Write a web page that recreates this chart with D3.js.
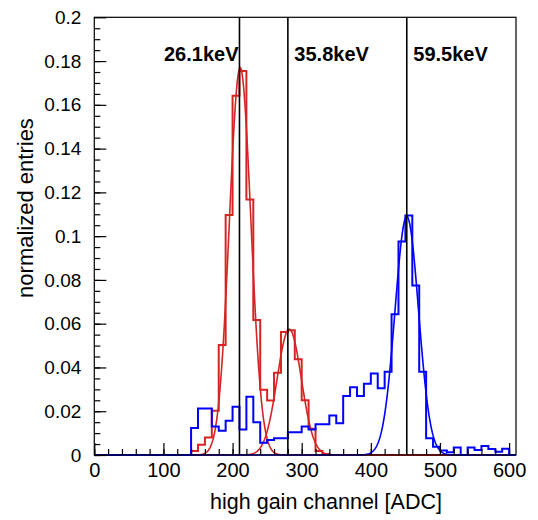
<!DOCTYPE html>
<html>
<head>
<meta charset="utf-8">
<script src="https://cdn.jsdelivr.net/npm/d3@7"></script>
<style>
  body { margin: 0; background: #fff; }
  text { font-family: "Liberation Sans", Arial, sans-serif; }
</style>
</head>
<body>
<div id="chart"></div>
<script>
// Histogram bins: 10 ADC channels wide, non-zero content from channel 140 up
var binWidth = 10;
var firstBin = 140;
var xMax = 610;

// normalized entries, bins 140..600
var redCounts = [
  0.0018, 0.0047, 0.0080, 0.0202, 0.0503, 0.1097, 0.1642, 0.1755, 0.1167, 0.0617,
  0.0298, 0.0249, 0.0376, 0.0562, 0.0570, 0.0437, 0.0250, 0.0120, 0.0018, 0.0005,
  0, 0, 0, 0, 0, 0, 0, 0, 0, 0,
  0, 0, 0, 0, 0, 0, 0, 0, 0, 0,
  0, 0, 0, 0, 0, 0, 0
];
var blueCounts = [
  0.0123, 0.0213, 0.0213, 0.0130, 0.0111, 0.0157, 0.0221, 0.0117, 0.0266, 0.0150,
  0.0056, 0.0069, 0.0076, 0.0076, 0.0104, 0.0104, 0.0130, 0.0117, 0.0140, 0.0140,
  0.0180, 0.0145, 0.0270, 0.0310, 0.0270, 0.0325, 0.0372, 0.0305, 0.0380, 0.0643,
  0.0975, 0.1094, 0.0774, 0.0380, 0.0076, 0.0038, 0.0020, 0.0013, 0.0034, 0.0000,
  0.0034, 0.0023, 0.0041, 0.0027, 0.0015, 0.0029, 0.0000
];

// gaussian fit parameters [amplitude, mean, sigma]
var redFits = [[0.177, 211, 15.5], [0.0575, 282, 17.5]];
var blueFit = [0.109, 452, 17];

// peak markers
var peakChannels = [210, 280, 452];
var peakLabels = ["26.1keV", "35.8keV", "59.5keV"];

var yTicks = [0, 0.02, 0.04, 0.06, 0.08, 0.1, 0.12, 0.14, 0.16, 0.18, 0.2];
var xTicks = [0, 100, 200, 300, 400, 500, 600];

var svgWidth = 538;
var svgHeight = 520;
var margin = { top: 17.3, right: 22, bottom: 65, left: 94.3 };

var svg = d3.select("#chart")
  .append("svg")
  .attr("width", svgWidth)
  .attr("height", svgHeight);

var x = d3.scaleLinear().domain([0, xMax]).range([margin.left, svgWidth - margin.right]);
var y = d3.scaleLinear().domain([0, 0.2]).range([svgHeight - margin.bottom, margin.top]);

// full bin list from 0 to xMax
function toBins(counts) {
  return d3.range(0, xMax, binWidth).map(function(lo) {
    var v = lo >= firstBin ? counts[(lo - firstBin) / binWidth] : 0;
    return { lo: lo, v: v || 0 };
  });
}

var histLine = d3.line()
  .x(d => x(d.lo))
  .y(d => y(d.v))
  .curve(d3.curveStepAfter);

function drawHist(counts, color) {
  var bins = toBins(counts);
  bins.push({ lo: xMax, v: bins[bins.length - 1].v });
  svg.append("path")
    .attr("d", histLine(bins))
    .attr("fill", "none")
    .attr("stroke", color)
    .attr("stroke-width", 2);
}

var fitLine = d3.line().x(d => x(d[0])).y(d => y(d[1]));

function drawFit(p, color) {
  var pts = d3.range(0, xMax + 0.5, 1).map(function(c) {
    return [c, p[0] * Math.exp(-0.5 * Math.pow((c - p[1]) / p[2], 2))];
  });
  svg.append("path")
    .attr("d", fitLine(pts))
    .attr("fill", "none")
    .attr("stroke", color)
    .attr("stroke-width", 1.6);
}

var red = "#d62424";
var blue = "#0000ff";

drawHist(redCounts, red);
redFits.forEach(p => drawFit(p, red));
drawHist(blueCounts, blue);
drawFit(blueFit, blue);

// peak lines and labels
svg.selectAll(".peak")
  .data(peakChannels)
  .enter()
  .append("line")
  .attr("x1", d => x(d))
  .attr("x2", d => x(d))
  .attr("y1", y(0.2))
  .attr("y2", y(0))
  .attr("stroke", "#000")
  .attr("stroke-width", 1.6);

svg.selectAll(".peakLabel")
  .data(peakLabels)
  .enter()
  .append("text")
  .attr("x", (d, i) => x(peakChannels[i]) + (i == 0 ? -1 : 6.5))
  .attr("y", 61)
  .attr("text-anchor", (d, i) => i == 0 ? "end" : "start")
  .attr("font-size", 20)
  .attr("font-weight", "bold")
  .text(d => d);

// frame
svg.append("rect")
  .attr("x", x(0))
  .attr("y", y(0.2))
  .attr("width", x(xMax) - x(0))
  .attr("height", y(0) - y(0.2))
  .attr("fill", "none")
  .attr("stroke", "#000")
  .attr("stroke-width", 1.2);

// axes: ticks point inward
var yAxis = svg.append("g")
  .attr("transform", `translate(${x(0)},0)`)
  .call(d3.axisLeft(y).tickValues(yTicks).tickSize(-12).tickPadding(13)
    .tickFormat(d => d3.format("")(+d.toFixed(2))));
svg.append("g")
  .attr("transform", `translate(${x(0)},0)`)
  .call(d3.axisLeft(y).tickValues(d3.range(0, 0.2, 0.005)).tickSize(-6).tickFormat(""));

var xAxis = svg.append("g")
  .attr("transform", `translate(0,${y(0)})`)
  .call(d3.axisBottom(x).tickValues(xTicks).tickSize(-12).tickPadding(8));
svg.append("g")
  .attr("transform", `translate(0,${y(0)})`)
  .call(d3.axisBottom(x).tickValues(d3.range(0, xMax, 20)).tickSize(-6).tickFormat(""));

svg.selectAll(".domain").remove();
svg.selectAll(".tick line").attr("stroke", "#000").attr("stroke-width", 1.2);
yAxis.selectAll("text").attr("font-size", 19).attr("fill", "#000");
xAxis.selectAll("text").attr("font-size", 20).attr("fill", "#000");

// axis titles
svg.append("text")
  .attr("x", 326)
  .attr("y", 509)
  .attr("text-anchor", "middle")
  .attr("font-size", 21.5)
  .text("high gain channel [ADC]");

svg.append("text")
  .attr("transform", "translate(33,208) rotate(-90)")
  .attr("text-anchor", "middle")
  .attr("font-size", 22)
  .text("normalized entries");
</script>
</body>
</html>
